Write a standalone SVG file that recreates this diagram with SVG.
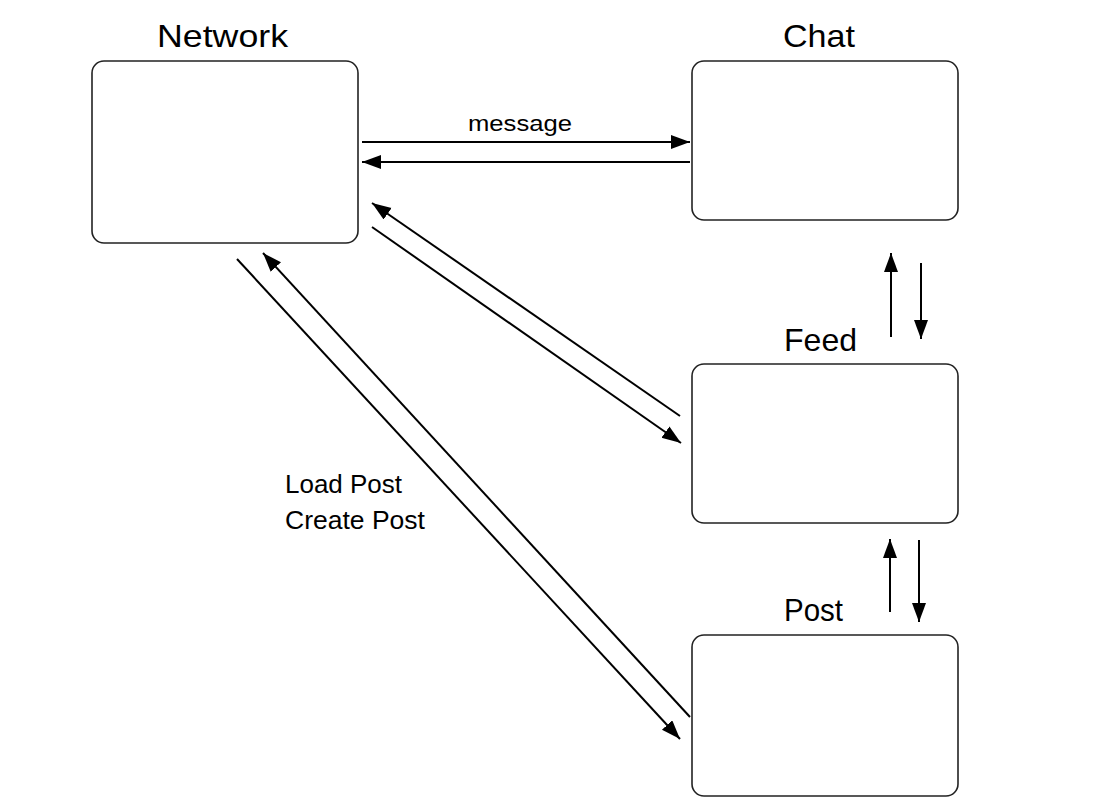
<svg xmlns="http://www.w3.org/2000/svg" width="1106" height="806" viewBox="0 0 1106 806">
<style>
.box{fill:#fff;stroke:#222;stroke-width:1.6}
.title{font-family:"Liberation Sans",Arial,sans-serif;font-size:32px;fill:#000}
.lbl{font-family:"Liberation Sans",Arial,sans-serif;font-size:22px;fill:#000}
.big{font-size:25px}
.conn line{stroke:#000;stroke-width:2;marker-end:url(#ah)}
</style>
<defs>
<marker id="ah" markerUnits="userSpaceOnUse" markerWidth="20" markerHeight="16" refX="19" refY="7" orient="auto">
<path d="M0,0 L19,7 L0,14 z" fill="#000"/>
</marker>
</defs>
<rect width="1106" height="806" fill="#fff"/>
<g id="network">
<rect class="box" x="92" y="61" width="266" height="182" rx="12"/>
<text class="title" x="157" y="47" textLength="131" lengthAdjust="spacingAndGlyphs">Network</text>
</g>
<g id="chat">
<rect class="box" x="692" y="61" width="266" height="159" rx="12"/>
<text class="title" x="783" y="47" textLength="72" lengthAdjust="spacingAndGlyphs">Chat</text>
</g>
<g id="feed">
<rect class="box" x="692" y="364" width="266" height="159" rx="12"/>
<text class="title" x="784" y="351" textLength="73" lengthAdjust="spacingAndGlyphs">Feed</text>
</g>
<g id="post">
<rect class="box" x="692" y="635" width="266" height="161" rx="12"/>
<text class="title" x="784" y="621" textLength="59" lengthAdjust="spacingAndGlyphs">Post</text>
</g>
<g id="connectors" class="conn">
<line x1="362" y1="142" x2="690" y2="142"/>
<line x1="690" y1="162" x2="362" y2="162"/>
<line x1="891" y1="337" x2="891" y2="253"/>
<line x1="921" y1="263" x2="921" y2="339"/>
<line x1="890" y1="612" x2="890" y2="539"/>
<line x1="919" y1="540" x2="919" y2="622"/>
<line x1="680" y1="416" x2="372" y2="203"/>
<line x1="372" y1="227" x2="681" y2="443"/>
<line x1="690" y1="717" x2="263" y2="253"/>
<line x1="237" y1="259" x2="680" y2="739"/>
<text class="lbl" x="468" y="131" textLength="104" lengthAdjust="spacingAndGlyphs">message</text>
<text class="lbl big" x="285" y="493" textLength="117" lengthAdjust="spacingAndGlyphs">Load Post</text>
<text class="lbl big" x="285" y="529" textLength="140" lengthAdjust="spacingAndGlyphs">Create Post</text>
</g>
</svg>
